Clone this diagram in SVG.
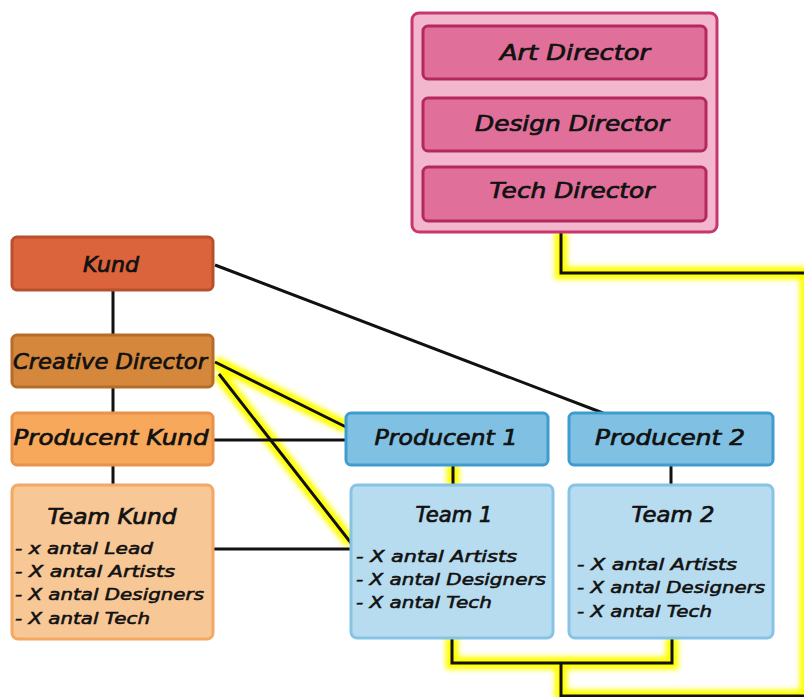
<svg xmlns="http://www.w3.org/2000/svg" width="804" height="697" viewBox="0 0 804 697">
<defs>
<filter id="glow" x="-20%" y="-20%" width="140%" height="140%"><feGaussianBlur stdDeviation="2.6"/></filter>
<style>
.t{font-family:"DejaVu Sans","Liberation Sans",sans-serif;font-style:italic;font-weight:normal;fill:#111;stroke:#111;stroke-width:0.7;}
.h{font-size:21px;text-anchor:middle;}
.b{font-size:16px;stroke-width:0.55;}
.box{stroke-width:3;}
.ln{fill:none;stroke:#111;stroke-width:3;}
.gl{fill:none;stroke:#ffff00;stroke-width:13;filter:url(#glow);}
</style>
</defs>
<rect width="804" height="697" fill="#ffffff"/>
<g id="connectors">
<g id="glow-layer">
<path class="gl" d="M561,232 V273 H806 V696 H561 V663 M452,638 V663 H672 V638"/>
<path class="gl" d="M215,362 L346,427 M219,374 L351,543 M453,465 V485"/>
</g>
<path class="ln" d="M113,290 V335 M113,387 V413 M113,465 V485"/>
<path class="ln" d="M215,265 L603,413"/>
<path class="ln" d="M213,440 H346"/>
<path class="ln" d="M213,549 H351"/>
<path class="ln" d="M671,465 V485"/>
<path class="ln" d="M215,362 L346,427 M219,374 L351,543 M453,465 V485"/>
<path class="ln" d="M561,232 V273 H806 V696 H561 V663 M452,638 V663 H672 V638"/>
</g>
<g id="directors">
<rect x="412" y="13" width="305" height="219" rx="7" fill="#f2b7cc" stroke="#c8366e" class="box"/>
<g id="art-director">
<rect x="423" y="26" width="283" height="53" rx="5" fill="#e0709a" stroke="#b3285e" class="box"/>
<text class="t h" x="575" y="60" textLength="150" lengthAdjust="spacingAndGlyphs">Art Director</text>
</g>
<g id="design-director">
<rect x="423" y="98" width="283" height="53" rx="5" fill="#e0709a" stroke="#b3285e" class="box"/>
<text class="t h" x="572" y="131" textLength="194" lengthAdjust="spacingAndGlyphs">Design Director</text>
</g>
<g id="tech-director">
<rect x="423" y="167" width="283" height="54" rx="5" fill="#e0709a" stroke="#b3285e" class="box"/>
<text class="t h" x="572" y="198" textLength="165" lengthAdjust="spacingAndGlyphs">Tech Director</text>
</g>
</g>
<g id="kund">
<rect x="12" y="237" width="201" height="53" rx="5" fill="#dc643c" stroke="#b9502c" class="box"/>
<text class="t h" x="111" y="272" textLength="56" lengthAdjust="spacingAndGlyphs">Kund</text>
</g>
<g id="creative-director">
<rect x="12" y="335" width="201" height="52" rx="5" fill="#d5883c" stroke="#b66d2a" class="box"/>
<text class="t h" x="110" y="369" textLength="194" lengthAdjust="spacingAndGlyphs">Creative Director</text>
</g>
<g id="producent-kund">
<rect x="12" y="413" width="201" height="52" rx="5" fill="#f7a85a" stroke="#e8924a" class="box"/>
<text class="t h" x="111" y="445" textLength="195" lengthAdjust="spacingAndGlyphs">Producent Kund</text>
</g>
<g id="team-kund">
<rect x="12" y="485" width="201" height="154" rx="6" fill="#f8c796" stroke="#f3a864" class="box"/>
<text class="t h" x="112" y="524" textLength="129" lengthAdjust="spacingAndGlyphs">Team Kund</text>
<text class="t b" x="15" y="554" textLength="138" lengthAdjust="spacingAndGlyphs">- x antal Lead</text>
<text class="t b" x="15" y="577" textLength="160" lengthAdjust="spacingAndGlyphs">- X antal Artists</text>
<text class="t b" x="15" y="600" textLength="189" lengthAdjust="spacingAndGlyphs">- X antal Designers</text>
<text class="t b" x="15" y="624" textLength="135" lengthAdjust="spacingAndGlyphs">- X antal Tech</text>
</g>
<g id="producent-1">
<rect x="346" y="413" width="202" height="52" rx="5" fill="#80c1e3" stroke="#3f9ccf" class="box"/>
<text class="t h" x="446" y="445" textLength="143" lengthAdjust="spacingAndGlyphs">Producent 1</text>
</g>
<g id="producent-2">
<rect x="569" y="413" width="204" height="52" rx="5" fill="#80c1e3" stroke="#3f9ccf" class="box"/>
<text class="t h" x="670" y="445" textLength="150" lengthAdjust="spacingAndGlyphs">Producent 2</text>
</g>
<g id="team-1">
<rect x="351" y="485" width="202" height="153" rx="6" fill="#b8dcef" stroke="#86c3e4" class="box"/>
<text class="t h" x="454" y="522" textLength="77" lengthAdjust="spacingAndGlyphs">Team 1</text>
<text class="t b" x="356" y="562" textLength="161" lengthAdjust="spacingAndGlyphs">- X antal Artists</text>
<text class="t b" x="356" y="585" textLength="190" lengthAdjust="spacingAndGlyphs">- X antal Designers</text>
<text class="t b" x="356" y="608" textLength="136" lengthAdjust="spacingAndGlyphs">- X antal Tech</text>
</g>
<g id="team-2">
<rect x="569" y="485" width="204" height="153" rx="6" fill="#b8dcef" stroke="#86c3e4" class="box"/>
<text class="t h" x="673" y="522" textLength="83" lengthAdjust="spacingAndGlyphs">Team 2</text>
<text class="t b" x="577" y="570" textLength="160" lengthAdjust="spacingAndGlyphs">- X antal Artists</text>
<text class="t b" x="577" y="593" textLength="188" lengthAdjust="spacingAndGlyphs">- X antal Designers</text>
<text class="t b" x="577" y="617" textLength="135" lengthAdjust="spacingAndGlyphs">- X antal Tech</text>
</g>
</svg>
